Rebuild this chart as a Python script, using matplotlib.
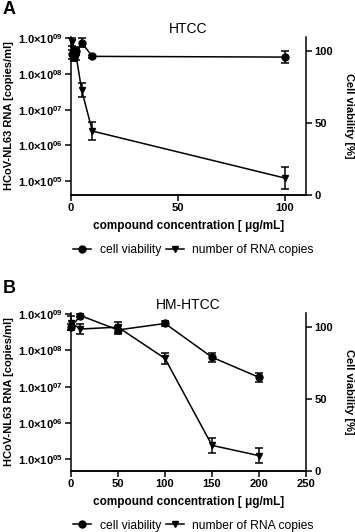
"""
Antiviral activity vs. cytotoxicity for HCoV-NL63 in HTCC and HM-HTCC cultures.
"""

import matplotlib
matplotlib.use("Agg")
import matplotlib.pyplot as plt
import numpy as np
from matplotlib.lines import Line2D
from matplotlib.ticker import NullLocator

plt.rcParams["font.family"] = ["Liberation Sans", "DejaVu Sans"]
plt.rcParams["mathtext.fontset"] = "custom"
plt.rcParams["mathtext.bf"] = "Liberation Sans:bold"
plt.rcParams["mathtext.rm"] = "Liberation Sans"

# Panel A - HTCC
conc_a = [0.625, 1.25, 2.5, 5, 10, 100]
rna_a = [8e8, 4.5e8, 3e8, 3.5e7, 2.5e6, 1.2e5]
rna_err_a = [0.12, 0.1, 0.07, 0.2, 0.25, 0.3]  # decades
viab_a = [98, 96, 100, 106, 96.5, 96]
viab_err_a = [3, 3, 2, 3, 1, 4]

# Panel B - HM-HTCC
conc_b = [0, 10, 50, 100, 150, 200]
rna_b = [5.8e8, 3.9e8, 4.4e8, 6e7, 2.4e5, 1.25e5]
rna_err_b = [0.2, 0.15, 0.15, 0.15, 0.2, 0.2]
viab_b = [100, 108, 98, 102.5, 79, 65]
viab_err_b = [2, 1, 3, 2, 3, 3]

log_ticks = [1e5, 1e6, 1e7, 1e8, 1e9]
log_labels = [r"$\mathbf{1.0{\times}10^{0%d}}$" % k for k in range(5, 10)]
pct_ticks = [0, 50, 100]


def draw_panel(fig, rect, conc, rna, rna_err, viab, viab_err, title, letter,
               letter_y, xlim, xticks, ylim_log):
    ax = fig.add_axes(rect)
    ax2 = ax.twinx()

    rna = np.array(rna)
    e = np.array(rna_err)
    yerr = [rna - rna / 10 ** e, rna * 10 ** e - rna]
    ax.errorbar(conc, rna, yerr=yerr, color="black", marker="v", ms=5,
                lw=1.1, capsize=3, elinewidth=1.1, capthick=1.1, clip_on=False)
    ax2.errorbar(conc, viab, yerr=viab_err, color="black", marker="o", ms=5,
                 lw=1.1, capsize=3, elinewidth=1.1, capthick=1.1, clip_on=False)

    ax.set_yscale("log")
    ax.set_ylim(*ylim_log)
    ax.set_yticks(log_ticks)
    ax.set_yticklabels(log_labels)
    ax.yaxis.set_minor_locator(NullLocator())
    ax.set_xlim(*xlim)
    ax.set_xticks(xticks)
    ax2.set_ylim(0, 110)
    ax2.set_yticks(pct_ticks)

    for a in (ax, ax2):
        a.spines["top"].set_visible(False)
        for s in a.spines.values():
            s.set_linewidth(1.1)
        a.tick_params(width=1.1, length=4, labelsize=8, pad=2)
        for lab in a.get_xticklabels() + a.get_yticklabels():
            lab.set_fontweight("bold")
    ax.spines["right"].set_visible(False)
    ax2.spines["left"].set_visible(False)

    ax.set_ylabel("HCoV-NL63 RNA [copies/ml]", fontsize=8, fontweight="bold", labelpad=3)
    ax2.set_ylabel("Cell viability [%]", fontsize=8, fontweight="bold",
                   rotation=270, labelpad=15)
    ax.set_xlabel("compound concentration [ \u03bcg/mL]", fontsize=8.5,
                  fontweight="bold", labelpad=5)
    ax.set_title(title, fontsize=10, pad=3)
    fig.text(0.008, letter_y, letter, fontsize=13, fontweight="bold", va="center")

    handles = [
        Line2D([], [], color="black", marker="o", ms=5, lw=1.1),
        Line2D([], [], color="black", marker="v", ms=5, lw=1.1),
    ]
    fig.legend(handles, ["cell viability", "number of RNA copies"],
               loc="center", bbox_to_anchor=(0.545, rect[1] - 0.103), ncol=2,
               frameon=False, fontsize=8.7, handlelength=1.5, handletextpad=0.7,
               columnspacing=0.4, borderpad=0.1)


def main() -> None:
    fig = plt.figure(figsize=(3.55, 5.32), dpi=100)
    draw_panel(fig, [0.2, 0.6335, 0.662, 0.297], conc_a, rna_a, rna_err_a,
               viab_a, viab_err_a, "HTCC", "A", 0.983, (0, 110), [0, 50, 100],
               (4e4, 1.1e9))
    draw_panel(fig, [0.2, 0.1152, 0.662, 0.297], conc_b, rna_b, rna_err_b,
               viab_b, viab_err_b, "HM-HTCC", "B", 0.457, (0, 250),
               [0, 50, 100, 150, 200, 250], (4.8e4, 1.1e9))
    fig.savefig("out.png", dpi=100)


if __name__ == "__main__":
    main()
